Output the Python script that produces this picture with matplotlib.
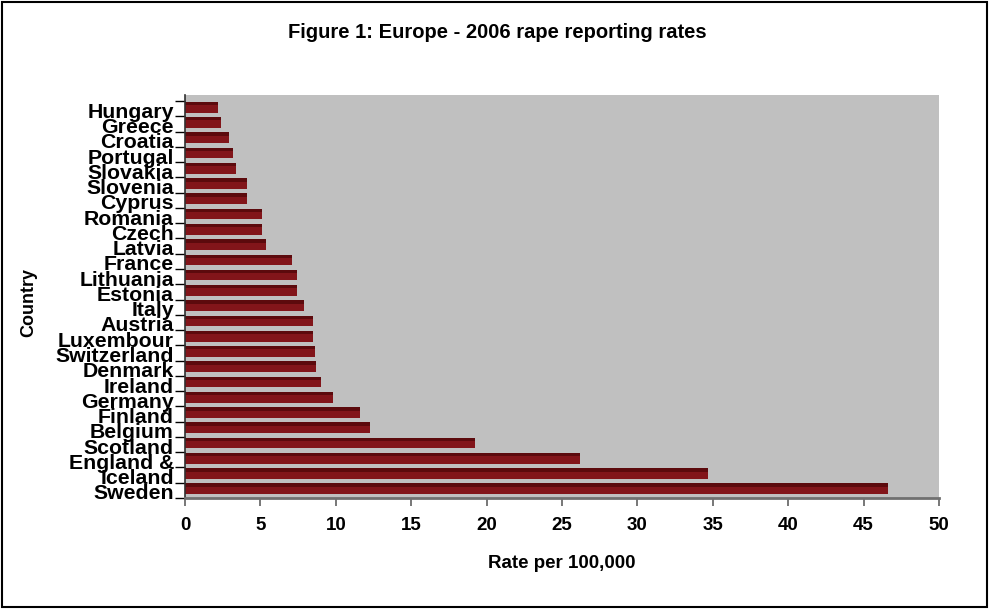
import numpy as np
import matplotlib
matplotlib.use("Agg")
import matplotlib.pyplot as plt
from matplotlib.patches import Rectangle

# countries as listed from top to bottom of the chart
countries = ["Hungary", "Greece", "Croatia", "Portugal", "Slovakia", "Slovenia",
             "Cyprus", "Romania", "Czech", "Latvia", "France", "Lithuania",
             "Estonia", "Italy", "Austria", "Luxembour", "Switzerland", "Denmark",
             "Ireland", "Germany", "Finland", "Belgium", "Scotland", "England &",
             "Iceland", "Sweden"]
rates = [2.2, 2.4, 2.9, 3.2, 3.4, 4.1, 4.1, 5.1, 5.1, 5.4, 7.1, 7.4,
         7.4, 7.9, 8.5, 8.5, 8.6, 8.7, 9.0, 9.8, 11.6, 12.3, 19.2, 26.2,
         34.7, 46.6]
xticks = list(range(0, 51, 5))

plt.rcParams['font.family'] = ['Liberation Sans', 'DejaVu Sans']

W, H = 991, 610
fig = plt.figure(figsize=(W / 100, H / 100), dpi=100)
ax = fig.add_axes([185 / W, 1 - 498 / H, (939 - 185) / W, (498 - 95) / H])
ax.set_facecolor('#C0C0C0')

pos = np.arange(len(countries))[::-1]
# main face of the bar, then the darker top face for the 3D look
ax.barh(pos + 0.1, rates, height=0.7, color='#82151A', edgecolor='none')
ax.barh(pos + 0.34, rates, height=0.22, color='#5C0A0D', edgecolor='none')

ax.set_xlim(0, 50)
ax.set_ylim(-0.5, len(countries) - 0.5 + 0.4)
ax.set_xticks(xticks)
ax.set_xticklabels([str(t) for t in xticks], fontsize=13.5, fontweight='bold')
ax.tick_params(axis='x', length=6, width=1.2, color='#606060', pad=8)

ax.set_yticks(np.arange(-0.5, len(countries)), labels=[])
ax.set_yticks(pos - 0.1, labels=countries, minor=True)
ax.tick_params(axis='y', which='major', length=7, width=1, color='black')
ax.tick_params(axis='y', which='minor', length=0, pad=8, labelsize=15.3)
for lab in ax.get_yticklabels(minor=True):
    lab.set_fontweight('bold')

for s in ['top', 'right']:
    ax.spines[s].set_visible(False)
ax.spines['left'].set_color('#303030')
ax.spines['left'].set_linewidth(1.2)
ax.spines['bottom'].set_color('#707070')
ax.spines['bottom'].set_linewidth(2)

fig.text(497 / W, 1 - 33 / H, "Figure 1: Europe - 2006 rape reporting rates",
         ha='center', va='center', fontsize=14.5, fontweight='bold')
fig.text(562 / W, 1 - 563 / H, "Rate per 100,000", ha='center', va='center',
         fontsize=13.5, fontweight='bold')
fig.text(29 / W, 1 - 302 / H, "Country", ha='center', va='center',
         rotation=90, fontsize=13, fontweight='bold')

fig.patches.append(Rectangle((2 / W, 1 - 607 / H), 985 / W, 605 / H,
                             transform=fig.transFigure, fill=False,
                             edgecolor='black', linewidth=1.5))

fig.savefig("out.png", dpi=100)
